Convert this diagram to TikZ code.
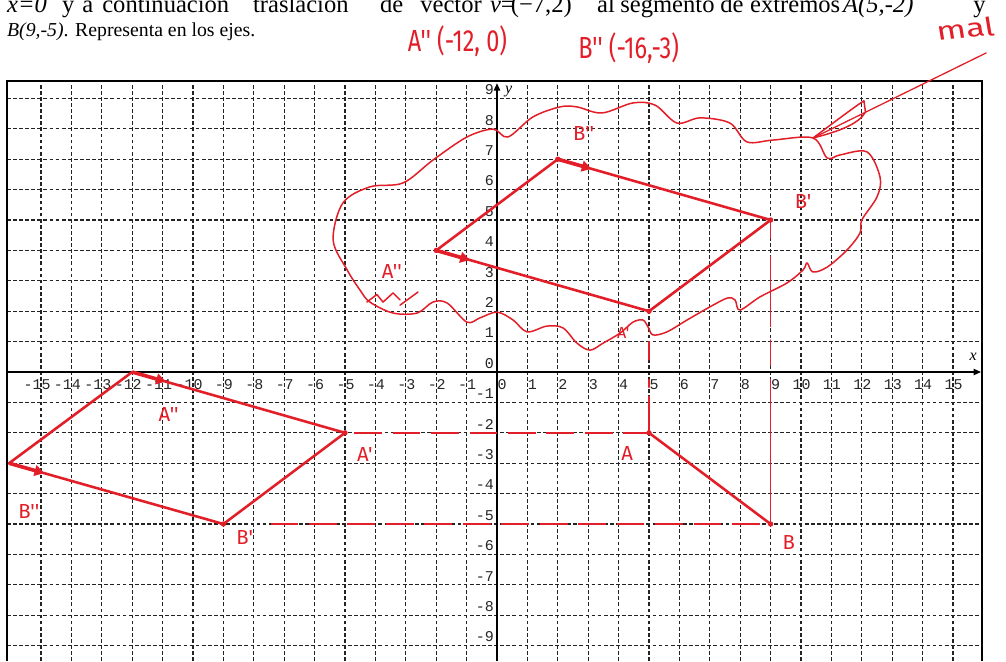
\documentclass[tikz,border=0pt]{standalone}
\usepackage{fontspec}
\setmainfont{Liberation Serif}
\newfontfamily\monof{Liberation Mono}
\newfontfamily\handf{Fira Sans}
\usetikzlibrary{arrows.meta,calc}
\definecolor{ink}{RGB}{226,30,40}
\definecolor{gridc}{RGB}{35,35,35}
\begin{document}
\begin{tikzpicture}[x=1cm,y=1cm,
  gridline/.style={gridc, line width=1pt, dash pattern=on 3.5pt off 2.2pt},
  axisline/.style={black, line width=1.3pt},
  ticklab/.style={font=\monof\fontsize{14}{14}\selectfont, anchor=base east, inner sep=0pt, text=black!85},
  axlab/.style={font=\itshape\fontsize{15}{15}\selectfont, inner sep=0pt},
  hdr/.style={font=\fontsize{18.5}{18.5}\selectfont, anchor=base west, inner sep=0pt},
  hdrA/.style={font=\fontsize{23}{23}\selectfont, anchor=base west, inner sep=0pt},
  redseg/.style={ink, line width=2.4pt, line cap=round, line join=round},
  redthin/.style={ink, line width=1.4pt, line cap=round, line join=round},
  reddash/.style={ink, line width=1.8pt, dash pattern=on 26pt off 10pt},
  vecmark/.style={ink, line width=3.4pt, -{Triangle[length=9pt,width=10pt]}},
  hand/.style={ink, font=\handf\fontsize{19}{19}\selectfont, inner sep=0pt},
  handbig/.style={ink, font=\handf\fontsize{22}{22}\selectfont, inner sep=0pt, yscale=1.3, transform shape},
  vdot/.style={circle, fill=ink, inner sep=0pt, minimum size=5pt},
]
\useasboundingbox (-16.349,-9.507) rectangle (16.743,12.237);
\fill[white] (-16.349,-9.507) rectangle (16.743,12.237);

% grid
\foreach \i in {-15,...,15} \draw[gridline] (\i,-9.507) -- (\i,9.57);
\foreach \j in {-9,...,9} \draw[gridline] (-16.12,\j) -- (15.95,\j);
\draw[black, line width=1.6pt] (-16.12,-9.507) -- (-16.12,9.57) -- (15.95,9.57) -- (15.95,-9.507);

% axes
\draw[axisline, -{Triangle[length=7pt,width=6pt]}] (-16.12,0) -- (15.92,0);
\draw[axisline, -{Triangle[length=7pt,width=6pt]}] (0,-9.507) -- (0,9.5);
\node[axlab] (xl) at (15.66,0.49) {x};
\node[axlab] (yl) at (0.38,9.24) {y};

% tick labels
\foreach \i in {-15,...,15} \node[ticklab] (tx\i) at (\i+0.32,-0.56) {\i};
\foreach \j in {-9,...,9} \node[ticklab] (ty\j) at (-0.1,\j+0.12) {\j};

% header, first line (cut at the top edge)
\node[hdrA] (w1) at (-16.12,11.82) {\textit{x=0}};
\node[hdrA] (w2) at (-14.31,11.82) {y};
\node[hdrA] (w3) at (-13.65,11.82) {a};
\node[hdrA] (w4) at (-12.99,11.82) {continuación};
\node[hdrA] (w5) at (-8.03,11.82) {traslación};
\node[hdrA] (w6) at (-3.85,11.82) {de};
\node[hdrA] (w7) at (-2.53,11.82) {vector};
\node[hdrA] (w8) at (-0.23,11.82) {\textit{v}};
\node[hdrA] (w9) at (0.12,11.82) {=};
\node[hdrA] (w10) at (0.45,11.82) {(−7,2)};
\node[hdrA] (w11) at (3.29,11.82) {al};
\node[hdrA] (w12) at (4.05,11.82) {segmento};
\node[hdrA] (w13) at (7.34,11.82) {de};
\node[hdrA] (w14) at (8.32,11.82) {extremos};
\node[hdrA] (w15) at (11.38,11.82) {\textit{A(5,-2)}};
\node[hdrA] (w16) at (15.66,11.82) {y};
% second line
\node[hdr] (h7) at (-16.12,11.02) {\textit{B(9,-5)}. Representa en los ejes.};

% points
\coordinate (A) at (5,-2);
\coordinate (B) at (9,-5);
\coordinate (A1) at (-5,-2);
\coordinate (B1) at (-9,-5);
\coordinate (A2) at (-12,0);
\coordinate (B2) at (-16.05,-3);
\coordinate (P) at (5,2);
\coordinate (Q) at (9,5);
\coordinate (R) at (2,7);
\coordinate (S) at (-2,4);

% cloud outline
\draw[redthin] plot[smooth cycle, tension=0.55] coordinates {
(-5.39,4.34) (-5.07,5.56) (-4.18,6.09) (-3.09,6.22) (-2.11,6.97) (-0.99,7.73)
(-0.13,7.99) (0.36,7.73) (1.18,8.39) (2.07,8.72) (2.63,8.72) (3.45,8.52)
(4.47,8.85) (5.2,8.78) (5.92,8.19) (6.68,8.36) (7.66,8.19) (8.22,7.57)
(9.08,7.63) (10.39,7.7) (10.86,7.04) (11.28,7.14) (12.17,7.24) (12.6,6.41)
(12.5,5.76) (12.0,5.0) (11.94,4.57) (11.51,4.01) (10.86,3.45) (10.39,3.29)
(10.2,3.59) (10.07,3.36) (9.54,2.93) (8.65,2.47) (7.99,2.04) (7.83,2.37)
(7.57,2.43) (7.0,2.14) (6.25,1.71) (5.59,1.32) (5.13,1.22) (4.97,1.48)
(4.8,1.71) (4.47,1.64) (4.05,1.28) (3.49,0.95) (3.06,0.72) (2.63,0.95)
(2.17,1.45) (1.64,1.51) (0.99,1.32) (0.53,1.71) (0,1.97) (-0.56,1.78)
(-0.99,1.64) (-1.64,2.27) (-2.11,2.3) (-2.63,1.94) (-3.42,1.94) (-4.18,2.3)
(-4.51,2.7) (-4.93,3.36)};

% "mal" pointer
\coordinate (M0) at (10.4,7.7);
\coordinate (M1) at (16.1,10.5);
\draw[redthin] (M0) .. controls (11.2,8.3) and (11.8,8.75) .. (12.07,8.92) -- (12.12,8.55) .. controls (11.9,8.15) and (11.2,7.9) .. (M0);
\draw[ink, line width=1.2pt] (M0) -- (M1);

% dashed guides
\draw[reddash] (-4.7,-2) -- (A);
\draw[reddash] (-7.45,-5) -- (B);
\draw[redthin] (5,-2) -- (5,-0.8) (5,-0.5) -- (5,-0.25) (5,0.4) -- (5,1.0);
\draw[redthin] (9,-5) -- (9,-0.25) (9,0.23) -- (9,1.05) (9,1.5) -- (9,3.8) (9,4.4) -- (9,4.9);

% segments
\draw[redseg] (A) -- (B);
\draw[redseg] (A1) -- (B1);
\draw[redseg] (A1) -- (A2);
\draw[redseg] (B1) -- (B2);
\draw[redseg] (A2) -- (B2);
\draw[redseg] (P) -- (Q);
\draw[redseg] (Q) -- (R);
\draw[redseg] (R) -- (S);
\draw[redseg] (S) -- (P);

% vector marks
\draw[vecmark] (A2) -- ($(A2)!1.15cm!(A1)$);
\draw[vecmark] (B2) -- ($(B2)!1.2cm!(B1)$);
\draw[vecmark] (S) -- ($(S)!1.15cm!(P)$);
\draw[vecmark] (R) -- ($(R)!1.15cm!(Q)$);

% vertex dots
\foreach \p in {A,B,A1,B1,P,Q,S,R} \node[vdot] (d\p) at (\p) {};

% scribble
\draw[redthin] (-4.28,2.3) -- (-3.95,2.55) -- (-3.75,2.3) -- (-3.42,2.6) -- (-3.19,2.37);
\draw[redthin] (-3.19,2.2) -- (-2.6,2.63);

% handwritten labels
\node[hand] (lA) at (4.28,-2.67) {A};
\node[hand] (lB) at (9.6,-5.6) {B};
\node[hand] (lA1) at (-4.35,-2.7) {A'};
\node[hand] (lB1) at (-8.3,-5.43) {B'};
\node[hand] (lB2) at (-15.4,-4.58) {B''};
\node[hand] (lA2) at (-10.8,-1.4) {A''};
\node[hand] (lS) at (-3.46,3.3) {A''};
\node[hand] (lR) at (2.85,7.85) {B''};
\node[hand] (lQ) at (10.07,5.6) {B'};
\node[hand, font=\handf\fontsize{15}{15}\selectfont] (lP) at (4.15,1.3) {A'};

% red header notes
\node[handbig] (n1) at (-1.3,10.88) {A'' (-12, 0)};
\node[handbig] (n2) at (4.33,10.67) {B'' (-16,-3)};
\node[ink, font=\handf\fontsize{24}{24}\selectfont, inner sep=0pt, xscale=1.35, rotate=7, transform shape] (mal) at (15.4,11.3) {mal};
\end{tikzpicture}
\end{document}
